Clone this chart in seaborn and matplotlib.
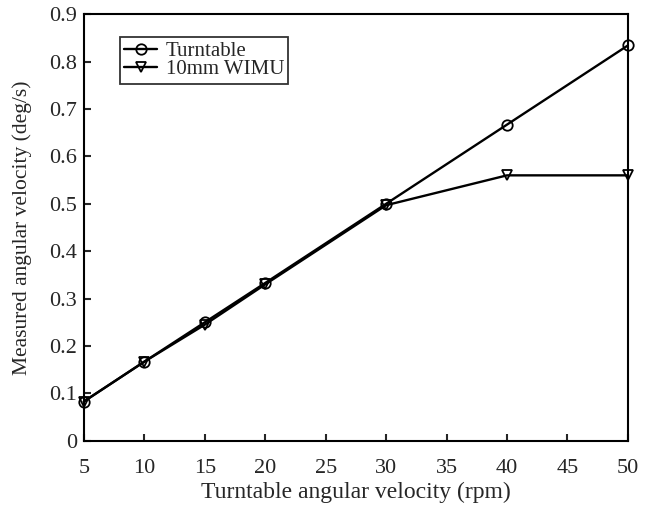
import matplotlib
matplotlib.use("Agg")
import matplotlib.pyplot as plt
import seaborn as sns
import pandas as pd

rpm = [5, 10, 15, 20, 30, 40, 50]
turntable = [0.083, 0.167, 0.250, 0.333, 0.500, 0.667, 0.834]
wimu = [0.083, 0.167, 0.245, 0.330, 0.497, 0.560, 0.560]
series_names = ["Turntable", "10mm WIMU"]
xticks = [5, 10, 15, 20, 25, 30, 35, 40, 45, 50]
yticks = [0, 0.1, 0.2, 0.3, 0.4, 0.5, 0.6, 0.7, 0.8, 0.9]

sns.set_style("ticks")
plt.rcParams['font.family'] = ['Liberation Serif', 'DejaVu Serif']

df = pd.DataFrame({
    "rpm": rpm * 2,
    "val": turntable + wimu,
    "series": [series_names[0]] * len(rpm) + [series_names[1]] * len(rpm),
})

fig = plt.figure(figsize=(6.5, 5.05), dpi=100)
ax = fig.add_axes([0.129, 0.127, 0.837, 0.845])

sns.lineplot(data=df, x="rpm", y="val", hue="series", style="series",
             markers={"Turntable": "o", "10mm WIMU": "v"}, dashes=False,
             palette={"Turntable": "black", "10mm WIMU": "black"},
             linewidth=1.7, markersize=7.5, markerfacecolor="none",
             markeredgecolor="black", markeredgewidth=1.3, ax=ax,
             clip_on=False)

ax.set_xlim(5, 50)
ax.set_ylim(0, 0.9)
ax.set_xticks(xticks)
ax.set_yticks(yticks)
ax.set_yticklabels(["0"] + [f"{v:.1f}" for v in yticks[1:]])
ax.tick_params(direction="in", length=5, width=1.5, labelsize=16)
ax.tick_params(axis="x", pad=13)
ax.tick_params(axis="y", pad=5)
for s in ax.spines.values():
    s.set_linewidth(1.5)
    s.set_color("black")
ax.set_xlabel("Turntable angular velocity (rpm)", fontsize=17, labelpad=3)
ax.set_ylabel("Measured angular velocity (deg/s)", fontsize=15.5, labelpad=12)

leg = ax.legend(loc="upper left", bbox_to_anchor=(0.066, 0.946), fontsize=15,
                frameon=True, fancybox=False, edgecolor="black",
                handlelength=1.6, handletextpad=0.4, borderpad=0.2,
                labelspacing=-0.05, borderaxespad=0)
leg.get_frame().set_linewidth(1.3)
for h in leg.legend_handles:
    h.set_markerfacecolor("none")
    h.set_markeredgecolor("black")

fig.savefig("out.png", dpi=100)
